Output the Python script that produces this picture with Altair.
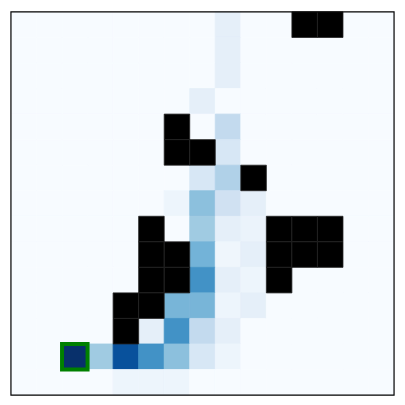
import altair as alt
import pandas as pd

N = 15
# value grid (row 0 = top); None = obstacle (black)
grid = [
    [0, 0, 0, 0, 0, 0, 0, 0, 0.09, 0, 0, None, None, 0, 0],
    [0, 0, 0, 0, 0, 0, 0, 0, 0.09, 0, 0, 0, 0, 0, 0],
    [0, 0, 0, 0, 0, 0, 0, 0, 0.09, 0, 0, 0, 0, 0, 0],
    [0, 0, 0, 0, 0, 0, 0, 0.09, 0, 0, 0, 0, 0, 0, 0],
    [0, 0, 0, 0, 0, 0, None, 0, 0.26, 0, 0, 0, 0, 0, 0],
    [0, 0, 0, 0, 0, 0, None, None, 0.16, 0, 0, 0, 0, 0, 0],
    [0, 0, 0, 0, 0, 0, 0, 0.16, 0.32, None, 0, 0, 0, 0, 0],
    [0, 0, 0, 0, 0, 0, 0.05, 0.42, 0.20, 0.09, 0, 0, 0, 0, 0],
    [0, 0, 0, 0, 0, None, 0, 0.37, 0.09, 0.06, None, None, None, 0, 0],
    [0, 0, 0, 0, 0, None, None, 0.48, 0.04, 0.09, None, None, None, 0, 0],
    [0, 0, 0, 0, 0, None, None, 0.625, 0.09, 0.05, None, 0, 0, 0, 0],
    [0, 0, 0, 0, None, None, 0.47, 0.47, 0.05, 0.09, 0, 0, 0, 0, 0],
    [0, 0, 0, 0, None, 0.09, 0.625, 0.26, 0.09, 0, 0, 0, 0, 0, 0],
    [0, 0, 1.0, 0.37, 0.875, 0.625, 0.42, 0.16, 0.05, 0, 0, 0, 0, 0, 0],
    [0, 0, 0, 0, 0.05, 0.05, 0.05, 0, 0, 0, 0, 0, 0, 0, 0],
]
goal = (13, 2)

blues_stops = [0, 0.125, 0.25, 0.375, 0.5, 0.625, 0.75, 0.875, 1.0]
blues_colors = ["#f7fbff", "#deebf7", "#c6dbef", "#9ecae1", "#6baed6",
                "#4292c6", "#2171b5", "#08519c", "#08306b"]

cells, walls = [], []
for r, row in enumerate(grid):
    for c, v in enumerate(row):
        if v is None:
            walls.append({"row": r, "col": c})
        else:
            cells.append({"row": r, "col": c, "v": v})

df = pd.DataFrame(cells)
dw = pd.DataFrame(walls)
dg = pd.DataFrame([{"row": goal[0], "col": goal[1]}])

xs = alt.Scale(domain=list(range(N)), paddingInner=0, paddingOuter=0)
ys = alt.Scale(domain=list(range(N)), paddingInner=0, paddingOuter=0)
cs = alt.Scale(domain=blues_stops, range=blues_colors)

heat = alt.Chart(df).mark_rect(strokeWidth=0.8).encode(
    x=alt.X("col:O", scale=xs, axis=None),
    y=alt.Y("row:O", scale=ys, axis=None),
    color=alt.Color("v:Q", scale=cs, legend=None),
    stroke=alt.Stroke("v:Q", scale=cs, legend=None),
)
wall = alt.Chart(dw).mark_rect(color="black", stroke="#222222", strokeWidth=0.8).encode(
    x=alt.X("col:O", scale=xs, axis=None),
    y=alt.Y("row:O", scale=ys, axis=None),
)
goal_box = alt.Chart(dg).mark_rect(filled=False, stroke="#008000", strokeWidth=4).encode(
    x=alt.X("col:O", scale=xs, axis=None),
    y=alt.Y("row:O", scale=ys, axis=None),
)
frame = alt.Chart(dg).mark_rect(filled=False, stroke="black", strokeWidth=1.2).encode(
    x=alt.value(0), x2=alt.value(385), y=alt.value(0), y2=alt.value(385),
)

chart = alt.layer(heat, wall, goal_box, frame).properties(
    width=385, height=385,
    padding={"left": 10, "top": 10, "right": 10, "bottom": 10},
    background="white",
).configure_view(strokeWidth=0)

chart.save("out.html", embed_options={"renderer": "svg", "actions": False})
